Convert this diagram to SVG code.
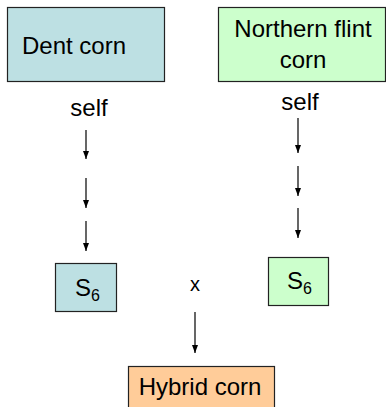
<svg xmlns="http://www.w3.org/2000/svg" width="386" height="407" viewBox="0 0 386 407">
<style>
text{font-family:"Liberation Sans",Arial,sans-serif;fill:#000}
.lbl{font-size:24px}
.box{stroke:#222;stroke-width:1.2}
.con{stroke:#000;stroke-width:1.2;fill:none;marker-end:url(#ah)}
</style>
<defs>
<marker id="ah" viewBox="0 0 8 6" refX="8" refY="3" markerWidth="8" markerHeight="6" markerUnits="userSpaceOnUse" orient="auto">
<path d="M0,0 L8,3 L0,6 Z" fill="#000"/>
</marker>
</defs>
<g id="dent">
<rect class="box" x="7.5" y="7.5" width="157" height="74" fill="#bde0e3"/>
<text class="lbl" x="22" y="54">Dent corn</text>
</g>
<g id="flint">
<rect class="box" x="218.5" y="7.5" width="167" height="74" fill="#ccffcc"/>
<text class="lbl" x="303" y="37" text-anchor="middle">Northern flint</text>
<text class="lbl" x="303" y="68" text-anchor="middle">corn</text>
</g>
<g id="self-left"><text class="lbl" x="89" y="116" text-anchor="middle">self</text></g>
<g id="self-right"><text class="lbl" x="300" y="110" text-anchor="middle">self</text></g>
<g id="s6-left">
<rect class="box" x="55.5" y="263.5" width="61" height="48" fill="#bde0e3"/>
<text class="lbl" x="75" y="296">S<tspan font-size="16" dy="5">6</tspan></text>
</g>
<g id="s6-right">
<rect class="box" x="268.5" y="257.5" width="60" height="48" fill="#ccffcc"/>
<text class="lbl" x="287" y="289">S<tspan font-size="16" dy="5">6</tspan></text>
</g>
<g id="cross"><text style="font-size:20px" x="195" y="291" text-anchor="middle">x</text></g>
<g id="hybrid">
<rect class="box" x="128.5" y="366.5" width="146" height="45" fill="#ffcc99"/>
<text class="lbl" x="200" y="395" text-anchor="middle">Hybrid corn</text>
</g>
<g id="connectors">
<line class="con" x1="86" y1="130" x2="86" y2="159"/>
<line class="con" x1="86" y1="178" x2="86" y2="208"/>
<line class="con" x1="86" y1="221" x2="86" y2="251"/>
<line class="con" x1="298" y1="118" x2="298" y2="153"/>
<line class="con" x1="298" y1="166" x2="298" y2="196"/>
<line class="con" x1="298" y1="208" x2="298" y2="238"/>
<line class="con" x1="195" y1="312" x2="195" y2="353"/>
</g>
</svg>
